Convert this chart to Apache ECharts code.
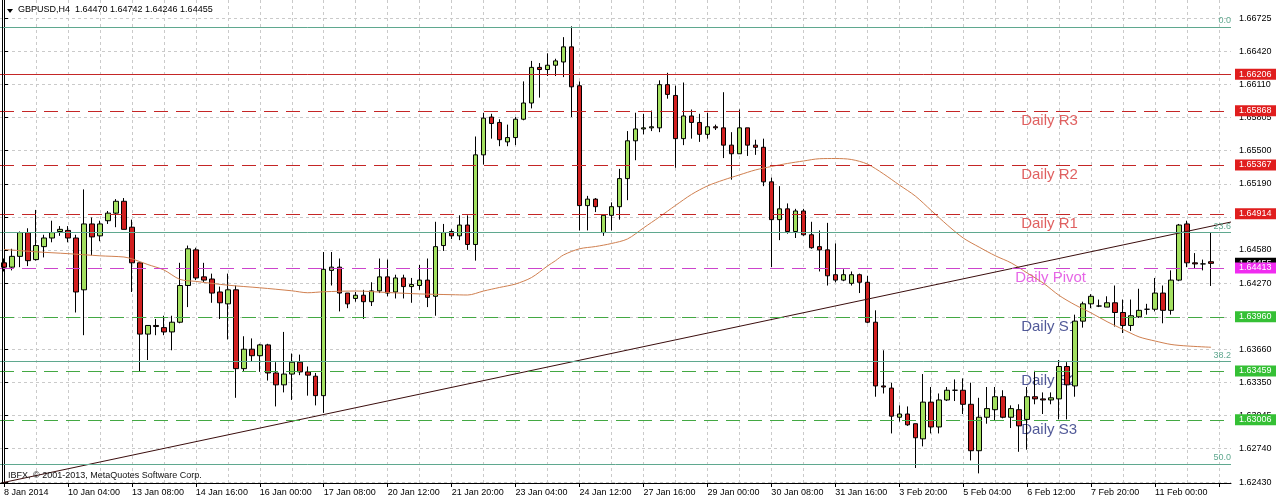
<!DOCTYPE html>
<html><head><meta charset="utf-8">
<script src="https://cdn.jsdelivr.net/npm/echarts@6/dist/echarts.min.js"></script>
<style>html,body{margin:0;padding:0;background:#fff}#c{width:1276px;height:503px}</style>
</head><body><div id="c"></div>
<script>
const SYMBOL = 'GBPUSD,H4';
const COPYRIGHT = 'IBFX, \u00a9 2001-2013, MetaQuotes Software Corp.';
const TICK_LABELS = ['8 Jan 2014','10 Jan 04:00','13 Jan 08:00','14 Jan 16:00','16 Jan 00:00','17 Jan 08:00','20 Jan 12:00','21 Jan 20:00','23 Jan 04:00','24 Jan 12:00','27 Jan 16:00','29 Jan 00:00','30 Jan 08:00','31 Jan 16:00','3 Feb 20:00','5 Feb 04:00','6 Feb 12:00','7 Feb 20:00','11 Feb 00:00'];
const BARS_PER_LABEL = 8;
const EMPTY_SLOTS = 2; // chart shift on the right
const Y_TICKS = [1.66725,1.66420,1.66110,1.65805,1.65500,1.65190,1.64885,1.64580,1.64270,1.63960,1.63660,1.63350,1.63045,1.62740,1.62430];
const Y_MIN = 1.62421, Y_MAX = 1.66894;
// [open, close, low, high]
const CANDLES = [
[1.6446,1.6442,1.6438,1.6450],[1.6442,1.6452,1.6439,1.6459],[1.6452,1.6474,1.6442,1.6475],[1.6474,1.6448,1.6443,1.6478],
[1.6449,1.6462,1.6448,1.6495],[1.6461,1.6469,1.6451,1.6472],[1.6469,1.6474,1.6465,1.6485],[1.6475,1.6477,1.6471,1.6480],
[1.6476,1.6469,1.6465,1.6480],[1.6469,1.6419,1.6400,1.6472],[1.6421,1.6482,1.6379,1.6514],[1.6482,1.6470,1.6453,1.6488],
[1.6471,1.6482,1.6466,1.6485],[1.6485,1.6492,1.6482,1.6494],[1.6492,1.6503,1.6479,1.6505],[1.6503,1.6477,1.6477,1.6506],
[1.6479,1.6446,1.6419,1.6486],[1.6446,1.6380,1.6345,1.6446],[1.6380,1.6388,1.6356,1.6388],[1.6388,1.6387,1.6379,1.6394],
[1.6386,1.6382,1.6379,1.6397],[1.6382,1.6391,1.6365,1.6397],[1.6391,1.6425,1.6390,1.6446],[1.6425,1.6459,1.6405,1.6462],
[1.6458,1.6432,1.6430,1.6460],[1.6433,1.6430,1.6428,1.6446],[1.6431,1.6418,1.6409,1.6436],[1.6419,1.6409,1.6394,1.6424],
[1.6408,1.6421,1.6375,1.6436],[1.6421,1.6348,1.6321,1.6425],[1.6348,1.6366,1.6345,1.6378],[1.6366,1.6360,1.6355,1.6376],
[1.6360,1.6370,1.6345,1.6371],[1.6370,1.6344,1.6337,1.6371],[1.6344,1.6333,1.6313,1.6354],[1.6333,1.6343,1.6326,1.6382],
[1.6343,1.6354,1.6319,1.6362],[1.6354,1.6345,1.6342,1.6361],[1.6345,1.6342,1.6323,1.6350],[1.6341,1.6323,1.6314,1.6344],
[1.6323,1.6440,1.6307,1.6456],[1.6439,1.6442,1.6425,1.6456],[1.6442,1.6418,1.6401,1.6450],[1.6418,1.6408,1.6404,1.6418],
[1.6413,1.6416,1.6410,1.6419],[1.6416,1.6410,1.6394,1.6421],[1.6410,1.6420,1.6406,1.6428],[1.6420,1.6433,1.6418,1.6450],
[1.6433,1.6418,1.6415,1.6449],[1.6419,1.6432,1.6413,1.6435],[1.6432,1.6424,1.6413,1.6435],[1.6424,1.6426,1.6409,1.6432],
[1.6425,1.6430,1.6421,1.6444],[1.6430,1.6414,1.6405,1.6450],[1.6415,1.6461,1.6397,1.6484],[1.6462,1.6474,1.6457,1.6482],
[1.6475,1.6471,1.6468,1.6477],[1.6471,1.6481,1.6467,1.6490],[1.6481,1.6463,1.6458,1.6490],[1.6463,1.6546,1.6448,1.6563],
[1.6546,1.6580,1.6537,1.6585],[1.6581,1.6575,1.6561,1.6584],[1.6576,1.6560,1.6554,1.6579],[1.6558,1.6562,1.6554,1.6574],
[1.6562,1.6579,1.6555,1.6581],[1.6579,1.6594,1.6578,1.6614],[1.6594,1.6627,1.6589,1.6633],[1.6627,1.6625,1.6599,1.6631],
[1.6625,1.6629,1.6619,1.6640],[1.6629,1.6633,1.6619,1.6635],[1.6632,1.6646,1.6618,1.6655],[1.6646,1.6609,1.6581,1.6665],
[1.6610,1.6499,1.6476,1.6614],[1.6499,1.6505,1.6476,1.6508],[1.6505,1.6498,1.6493,1.6506],[1.6474,1.6490,1.6471,1.6490],
[1.6490,1.6498,1.6476,1.6502],[1.6498,1.6524,1.6486,1.6533],[1.6524,1.6559,1.6504,1.6568],[1.6559,1.6570,1.6541,1.6585],
[1.6570,1.6571,1.6565,1.6584],[1.6571,1.6572,1.6568,1.6587],[1.6571,1.6611,1.6567,1.6615],[1.6611,1.6602,1.6598,1.6622],
[1.6601,1.6561,1.6534,1.6610],[1.6561,1.6582,1.6555,1.6613],[1.6582,1.6576,1.6561,1.6588],[1.6576,1.6565,1.6558,1.6584],
[1.6565,1.6572,1.6561,1.6585],[1.6572,1.6571,1.6569,1.6574],[1.6571,1.6555,1.6543,1.6604],[1.6555,1.6547,1.6523,1.6567],
[1.6547,1.6571,1.6547,1.6588],[1.6571,1.6555,1.6545,1.6571],[1.6555,1.6553,1.6546,1.6560],[1.6553,1.6521,1.6517,1.6561],
[1.6521,1.6486,1.6442,1.6525],[1.6486,1.6496,1.6467,1.6517],[1.6496,1.6475,1.6473,1.6501],[1.6475,1.6494,1.6469,1.6496],
[1.6494,1.6472,1.6471,1.6496],[1.6472,1.6460,1.6459,1.6484],[1.6461,1.6458,1.6438,1.6476],[1.6458,1.6434,1.6425,1.6483],
[1.6435,1.6430,1.6428,1.6464],[1.6430,1.6435,1.6429,1.6440],[1.6427,1.6435,1.6425,1.6438],[1.6435,1.6428,1.6418,1.6436],
[1.6428,1.6391,1.6390,1.6434],[1.6391,1.6332,1.6322,1.6402],[1.6332,1.6331,1.6325,1.6365],[1.6330,1.6304,1.6288,1.6335],
[1.6303,1.6306,1.6299,1.6314],[1.6306,1.6296,1.6295,1.6313],[1.6297,1.6284,1.6256,1.6297],[1.6283,1.6317,1.6276,1.6343],
[1.6317,1.6294,1.6288,1.6331],[1.6294,1.6319,1.6288,1.6325],[1.6319,1.6328,1.6318,1.6331],[1.6328,1.6328,1.6318,1.6338],
[1.6328,1.6315,1.6306,1.6339],[1.6315,1.6272,1.6263,1.6335],[1.6272,1.6303,1.6251,1.6321],[1.6303,1.6311,1.6297,1.6331],
[1.6310,1.6322,1.6300,1.6331],[1.6322,1.6303,1.6302,1.6328],[1.6303,1.6311,1.6293,1.6314],[1.6310,1.6295,1.6271,1.6315],
[1.6301,1.6322,1.6273,1.6331],[1.6322,1.6320,1.6315,1.6346],[1.6320,1.6319,1.6306,1.6326],[1.6319,1.6321,1.6315,1.6326],
[1.6320,1.6350,1.6301,1.6356],[1.6350,1.6333,1.6301,1.6354],[1.6332,1.6392,1.6322,1.6398],[1.6392,1.6408,1.6386,1.6410],
[1.6408,1.6415,1.6404,1.6417],[1.6406,1.6406,1.6405,1.6412],[1.6405,1.6409,1.6405,1.6415],[1.6409,1.6400,1.6387,1.6425],
[1.6400,1.6388,1.6381,1.6412],[1.6388,1.6397,1.6383,1.6412],[1.6396,1.6402,1.6395,1.6422],[1.6403,1.6403,1.6398,1.6408],
[1.6403,1.6418,1.6401,1.6432],[1.6418,1.6402,1.6390,1.6425],[1.6402,1.6430,1.6398,1.6439],[1.6430,1.6481,1.6429,1.6482],
[1.6482,1.6446,1.6442,1.6485],[1.6446,1.6445,1.6441,1.6455],[1.6445,1.6445,1.6439,1.6449],[1.64470,1.64455,1.64246,1.64742]
];
// moving average, read at [bar index, price]
const MA_POINTS = [[0,1.64584],[4,1.64562],[8,1.64545],[12,1.64525],[15,1.64514],[16,1.64497],[18,1.64444],[20,1.64394],[22,1.64307],[24,1.64288],[28,1.64253],[32,1.64229],[36,1.64201],[38,1.64183],[40,1.64192],[44,1.64199],[48,1.64185],[52,1.64172],[56,1.64165],[58,1.64162],[60,1.64199],[62,1.64232],[64,1.64264],[66,1.64324],[68,1.64431],[69,1.64480],[70,1.64533],[72,1.64590],[74,1.64611],[76,1.64639],[78,1.64681],[80,1.64783],[82,1.64885],[84,1.64991],[86,1.65093],[88,1.65172],[90,1.65227],[92,1.65274],[94,1.65320],[96,1.65352],[98,1.65380],[100,1.65403],[102,1.65424],[104,1.65426],[106,1.65417],[108,1.65375],[110,1.65285],[112,1.65181],[114,1.65079],[116,1.64945],[118,1.64811],[120,1.64690],[122,1.64605],[124,1.64526],[126,1.64459],[128,1.64366],[130,1.64273],[132,1.64158],[134,1.64070],[136,1.63996],[138,1.63915],[140,1.63843],[142,1.63774],[144,1.63736],[146,1.63704],[148,1.63690],[151,1.63678]];
// trend line anchors at the plot edges [bar position, price]
const TREND_LINE = [[-0.375,1.62421],[153.5,1.64838]];
const SOLID_LEVEL = 1.66206;
const PIVOT_NAMES = ['Daily R3','Daily R2','Daily R1','Daily Pivot','Daily S1','Daily S2','Daily S3'];
const PIVOT_VALUES = [1.65868,1.65367,1.64914,1.64413,1.63960,1.63459,1.63006];
const FIB_NAMES = ['0.0','23.6','38.2','50.0'];
const FIB_VALUES = [1.66644,1.64739,1.63545,1.62595];

const FONT = 'Liberation Sans, Arial, sans-serif';
const RED = '#c42626', RED_BOX = '#e01e1e';
const MAG = '#cc44cc', MAG_BOX = '#f02cf0';
const GRN = '#43a843', GRN_BOX = '#35c035';
const FIB = '#5fa88f';
const kindColor = i => i < 3 ? [RED, RED_BOX, '#d83838'] : (i === 3 ? [MAG, MAG_BOX, '#e040e0'] : [GRN, GRN_BOX, '#26307e']);

const nCat = CANDLES.length + EMPTY_SLOTS;
const categories = Array.from({length: nCat}, (_, i) => String(i));
const last = CANDLES[CANDLES.length - 1];
const bid = last[1];

function box(bg) {
  return {show: true, position: 'end', distance: 4, formatter: p => Number(p.value).toFixed(5),
    color: '#fff', backgroundColor: bg, padding: [1, 8, 0, 4], fontSize: 9, lineHeight: 10, fontFamily: FONT};
}
const lines = [];
FIB_VALUES.forEach((v, i) => lines.push({yAxis: v, lineStyle: {color: FIB, type: 'solid', width: 1},
  label: {show: true, position: 'insideEndTop', distance: [0, 2], formatter: FIB_NAMES[i], color: FIB, fontSize: 9, fontFamily: FONT}}));
lines.push({yAxis: SOLID_LEVEL, lineStyle: {color: RED, type: 'solid', width: 1}, label: box(RED_BOX)});
PIVOT_VALUES.forEach((v, i) => {
  if (i === 3) lines.push({yAxis: bid, lineStyle: {color: 'rgba(0,0,0,0)', width: 0}, label: box('#000')});
  lines.push({yAxis: v, lineStyle: {color: kindColor(i)[0], type: [14, 8], width: 1}, label: box(kindColor(i)[1])});
});

const gridLine = {color: '#cacaca', type: [3, 3], width: 1};
const option = {
  animation: false,
  backgroundColor: '#fff',
  grid: {left: -1, width: nCat * 8, top: 0, bottom: 20},
  xAxis: [{
    type: 'category', data: categories, boundaryGap: true,
    axisLine: {show: true, onZero: false, lineStyle: {color: '#000', width: 1}},
    axisTick: {show: true, alignWithLabel: true, interval: BARS_PER_LABEL - 1, length: 4, lineStyle: {color: '#000'}},
    axisLabel: {interval: BARS_PER_LABEL - 1, align: 'left', margin: 5, fontSize: 9, color: '#000', fontFamily: FONT,
      formatter: (v) => { const i = +v; return i % BARS_PER_LABEL === 0 ? (TICK_LABELS[i / BARS_PER_LABEL] || '') : ''; }},
    splitLine: {show: true, interval: BARS_PER_LABEL / 2 - 1, alignWithLabel: true, lineStyle: gridLine}
  }, {type: 'value', min: -0.5, max: nCat - 0.5, show: false}],
  yAxis: {
    type: 'value', position: 'right', min: Y_MIN, max: Y_MAX, scale: true,
    axisLine: {show: true, lineStyle: {color: '#000', width: 1}},
    axisTick: {show: true, length: 4, customValues: Y_TICKS, lineStyle: {color: '#000'}},
    axisLabel: {customValues: Y_TICKS, formatter: v => Number(v).toFixed(5), margin: 8, fontSize: 9, color: '#000', fontFamily: FONT},
    splitLine: {show: true, lineStyle: gridLine}
  },
  series: [
    {type: 'scatter', xAxisIndex: 0, z: 1, symbolSize: 0, silent: true,
      data: PIVOT_NAMES.map((n, i) => ({value: [CANDLES.length - 25, PIVOT_VALUES[i]], name: n,
        label: {show: true, position: 'right', distance: 2, offset: [i === 3 ? -6 : 0, 10], formatter: n,
          color: kindColor(i)[2], fontSize: 15, fontFamily: FONT}}))},
    {type: 'candlestick', data: CANDLES, barWidth: 5, z: 2,
      itemStyle: {color: '#a3e060', color0: '#d11f1f', borderColor: '#000', borderColor0: '#000', borderColorDoji: '#000', borderWidth: 1},
      markLine: {symbol: ['none', 'none'], precision: 5, silent: true, animation: false, data: lines}},
    {type: 'line', data: MA_POINTS, smooth: 0.3, showSymbol: false, silent: true, z: 3,
      lineStyle: {color: '#d08050', width: 1}},
    {type: 'line', xAxisIndex: 1, data: TREND_LINE, showSymbol: false, silent: true, z: 4,
      lineStyle: {color: '#3a0d0d', width: 1}}
  ],
  graphic: [
    {type: 'line', shape: {x1: 2.5, y1: 0, x2: 2.5, y2: 483}, style: {stroke: '#000', lineWidth: 1}, z: 10},
    {type: 'polygon', shape: {points: [[7, 9], [13, 9], [10, 13]]}, style: {fill: '#000'}, z: 10},
    {type: 'text', left: 18, top: 5, z: 10, style: {text: SYMBOL + '  ' + [last[0], last[3], last[2], last[1]].map(v => v.toFixed(5)).join(' '),
      fill: '#000', font: '9px ' + FONT}},
    {type: 'text', left: 8, top: 471, z: 10, style: {text: COPYRIGHT, fill: '#111', font: '9px ' + FONT}}
  ]
};
const chart = echarts.init(document.getElementById('c'));
chart.setOption(option);
</script></body></html>
